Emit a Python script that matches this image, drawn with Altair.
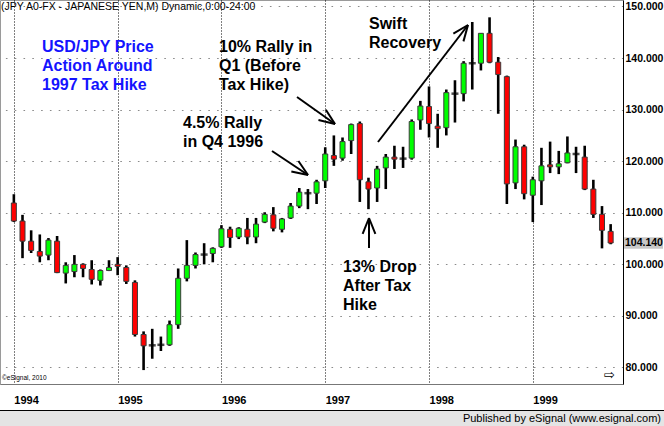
import altair as alt
import pandas as pd
import math

# ---------------- data (monthly USD/JPY, Jan 1994 .. Oct 1999) ----------------
month_index = list(range(70))
opens = [111.9, 108.4, 104.5, 102.5, 101.8, 104.5, 98.3, 98.6, 100.0, 99.0, 96.9, 98.8,
         100.0, 99.4, 96.5, 86.4, 84.3, 84.4, 84.4, 88.3, 97.3, 99.8, 101.9, 102.1,
         103.4, 106.8, 105.3, 106.8, 105.3, 108.2, 109.6, 106.8, 109.0, 111.3, 113.8, 113.8,
         116.2, 121.1, 120.6, 124.0, 127.3, 116.0, 114.8, 118.7, 120.8, 120.5, 120.6, 128.0,
         130.6, 126.8, 126.5, 133.1, 133.1, 139.0, 139.0, 144.8, 139.2, 136.4, 115.8, 122.8,
         113.4, 116.2, 119.3, 118.9, 119.7, 121.4, 120.8, 114.6, 109.7, 106.4]
highs = [113.6, 109.6, 106.6, 105.8, 105.1, 105.5, 100.4, 101.8, 100.2, 100.8, 99.0, 100.8,
         101.4, 99.8, 96.9, 87.0, 87.5, 86.0, 89.1, 99.2, 104.7, 102.3, 104.1, 103.3,
         107.6, 107.3, 107.2, 109.0, 109.0, 110.1, 111.1, 109.0, 111.9, 114.8, 114.6, 116.4,
         122.7, 125.0, 124.6, 127.3, 127.7, 116.8, 119.1, 121.4, 123.0, 122.8, 128.1, 131.7,
         134.5, 129.2, 133.9, 135.7, 139.4, 147.0, 144.8, 147.9, 140.2, 136.6, 124.2, 123.2,
         117.0, 122.6, 123.8, 122.0, 124.8, 122.8, 123.0, 116.4, 111.3, 107.8]
lows = [108.2, 101.2, 102.2, 100.4, 100.8, 98.3, 96.3, 97.5, 97.5, 96.1, 95.9, 98.7,
        97.9, 96.2, 86.0, 79.5, 81.7, 83.2, 84.2, 87.5, 96.7, 99.2, 100.0, 100.4,
        103.2, 103.2, 104.9, 103.9, 104.1, 108.0, 106.4, 106.2, 108.8, 110.9, 110.7, 111.7,
        114.8, 119.1, 120.1, 121.4, 112.1, 110.7, 112.1, 114.6, 118.5, 118.7, 120.3, 126.1,
        124.6, 122.6, 125.0, 127.5, 131.6, 133.9, 137.6, 139.0, 129.2, 111.7, 114.6, 112.6,
        108.2, 111.5, 117.7, 117.5, 119.6, 117.7, 114.4, 109.0, 103.1, 103.9]
closes = [108.4, 104.5, 102.7, 101.6, 104.7, 98.4, 99.8, 100.0, 99.2, 97.1, 98.8, 99.4,
          99.6, 96.7, 86.4, 84.2, 84.3, 84.4, 88.3, 97.3, 99.8, 101.9, 101.9, 103.1,
          106.9, 105.2, 107.0, 105.3, 107.8, 109.7, 107.0, 108.8, 111.3, 114.0, 113.8, 116.0,
          121.4, 120.4, 123.8, 127.1, 116.4, 114.6, 118.5, 120.8, 120.4, 120.5, 127.7, 130.7,
          127.3, 126.3, 133.3, 133.1, 139.0, 139.0, 144.8, 139.2, 136.8, 115.6, 122.8, 113.7,
          116.4, 119.1, 118.9, 119.5, 121.6, 121.4, 114.6, 109.7, 106.6, 104.14]

year_tick_months = [0, 12, 24, 36, 48, 60]
price_ticks = [80, 90, 100, 110, 120, 130, 140, 150]

header_text = "(JPY A0-FX - JAPANESE YEN,M) Dynamic,0:00-24:00"
title_lines = ["USD/JPY Price", "Action Around", "1997 Tax Hike"]
note_q1 = ["10% Rally in", "Q1 (Before", "Tax Hike)"]
note_q4 = ["4.5% Rally", "in Q4 1996"]
note_swift = ["Swift", "Recovery"]
note_drop = ["13% Drop", "After Tax", "Hike"]
footer_text = "Published by eSignal (www.esignal.com)"
copyright_text = "\u00a9eSignal, 2010"

df = pd.DataFrame({"m": month_index, "open": opens, "high": highs,
                   "low": lows, "close": closes})

FONT = "Liberation Sans"
W, H = 623, 384

xscale = alt.Scale(domain=[-1.024, 69.85], nice=False, zero=False)
yscale = alt.Scale(domain=[76.8, 151.26], nice=False, zero=False)

X = alt.X("m:Q", scale=xscale, title=None,
          axis=alt.Axis(values=year_tick_months,
                        labelExpr="'' + (1994 + datum.value / 12)",
                        labelAlign="left", labelBaseline="top", labelPadding=10,
                        labelFont=FONT, labelFontSize=11, labelFontWeight="bold",
                        labelColor="black", ticks=False, domain=True,
                        domainColor="#777", grid=True, gridColor="black",
                        gridDash=[1, 2], gridWidth=1, labelBound=False,
                        labelOverlap=False))
Y_AXIS = alt.Axis(values=price_ticks, format=".3f", orient="right",
                  labelFont=FONT, labelFontSize=10.5, labelFontWeight="bold",
                  labelColor="black", labelPadding=2, ticks=False, domain=True,
                  domainColor="black", domainWidth=1, grid=True,
                  gridColor="#8a8a8a", gridDash=[1.6, 7.2], gridWidth=1.2,
                  labelOverlap=False, labelBound=False)

base = alt.Chart(df)

wicks = base.mark_rule(color="black", strokeWidth=2.6).encode(
    x=X,
    y=alt.Y("low:Q", scale=yscale, axis=Y_AXIS, title=None),
    y2="high:Q")

bodies = base.transform_filter("datum.open != datum.close").mark_bar(
    width=5, stroke="#3a3a3a", strokeWidth=1).encode(
    x=X,
    y=alt.Y("open:Q", scale=yscale, axis=Y_AXIS, title=None),
    y2="close:Q",
    color=alt.condition("datum.close >= datum.open",
                        alt.value("#00ff00"), alt.value("#ff0000")))

dojis = base.transform_filter("datum.open == datum.close").mark_tick(
    orient="horizontal", size=7, thickness=2.5, color="black").encode(
    x=X,
    y=alt.Y("close:Q", scale=yscale, axis=Y_AXIS, title=None))

last = base.transform_filter("datum.m == 69").transform_calculate(
    top="datum.close + 1.1", bot="datum.close - 1.1")
last_box = last.mark_rect(color="#c8c8c8").encode(
    x=alt.value(W + 1), x2=alt.value(W + 40),
    y=alt.Y("top:Q", scale=yscale, axis=Y_AXIS, title=None), y2="bot:Q")
last_text = last.mark_text(align="left", baseline="middle", font=FONT,
                           fontSize=10.5, fontWeight="bold", color="black").encode(
    x=alt.value(W + 2),
    y=alt.Y("close:Q", scale=yscale, axis=Y_AXIS, title=None),
    text=alt.Text("close:Q", format=".3f"))

one = pd.DataFrame({"a": [0]})


def text_block(lines, x, y, color="black", size=16, weight="bold", lh=19,
               align="left", font=FONT):
    return alt.Chart(one).mark_text(
        text=lines if len(lines) > 1 else lines[0], align=align, baseline="top",
        font=font, fontSize=size, fontWeight=weight, color=color,
        lineHeight=lh).encode(x=alt.value(x), y=alt.value(y))


def seg(x0, y0, x1, y1, w=2, color="black"):
    return alt.Chart(one).mark_rule(strokeWidth=w, color=color).encode(
        x=alt.value(x0), y=alt.value(y0), x2=alt.value(x1), y2=alt.value(y1))


def arrow(x0, y0, x1, y1, L=17, ang=22):
    dx, dy = x0 - x1, y0 - y1
    n = math.hypot(dx, dy)
    ux, uy = dx / n, dy / n
    parts = [seg(x0, y0, x1, y1)]
    for s in (1, -1):
        a = math.radians(ang * s)
        bx = ux * math.cos(a) - uy * math.sin(a)
        by = ux * math.sin(a) + uy * math.cos(a)
        parts.append(seg(x1, y1, x1 + L * bx, y1 + L * by))
    return parts


annotations = [
    text_block([header_text], 1, 1.5, size=10.5, weight="normal", lh=12),
    text_block(title_lines, 42, 39, color="#1414ff"),
    text_block(note_q1, 219, 39),
    text_block(note_q4, 183, 115),
    text_block(note_swift, 369, 16),
    text_block(note_drop, 343, 259),
    text_block([copyright_text], 2, 375, size=6.5, weight="normal", lh=8),
    text_block(["\u21e8"], 604, 369, size=13, weight="normal", lh=14, font="DejaVu Sans"),
]
arrows = (arrow(297, 97, 335, 124) + arrow(272, 151, 308, 175) +
          arrow(378, 142, 468, 25) + arrow(369, 248, 369, 218))

footer_bg = alt.Chart(one).mark_rect(color="#e4e4e4").encode(
    x=alt.value(0), x2=alt.value(664), y=alt.value(411), y2=alt.value(426))
footer_line = seg(0, 410.5, 664, 410.5, w=1.2)
footer_txt = alt.Chart(one).mark_text(
    text=footer_text, align="right", baseline="middle", font=FONT, fontSize=11,
    color="black").encode(x=alt.value(661), y=alt.value(419))

chart = alt.layer(
    wicks, bodies, dojis, last_box, last_text,
    *annotations, *arrows, footer_bg, footer_line, footer_txt
).properties(
    width=W, height=H,
    padding={"left": 0, "top": 0, "right": 41, "bottom": 42},
    autosize=alt.AutoSizeParams(type="none"),
    background="white",
).configure_view(stroke="#9a9a9a", strokeWidth=1)

chart.save("out.html", embed_options={"renderer": "svg", "actions": False})
